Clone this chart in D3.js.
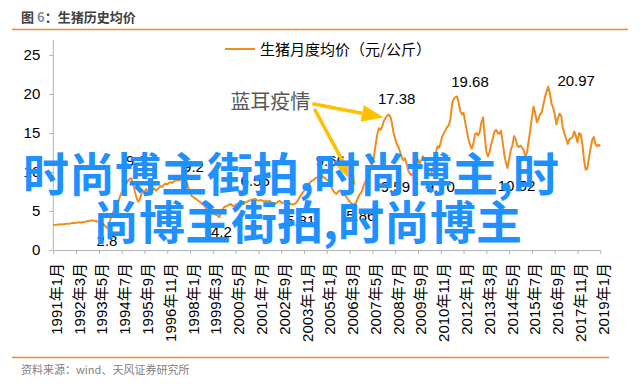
<!DOCTYPE html>
<html><head><meta charset="utf-8">
<script src="https://cdn.jsdelivr.net/npm/d3@7/dist/d3.min.js"></script>
<style>body{margin:0;background:#fff;}svg{display:block;}</style>
</head><body>
<svg id="chart" width="640" height="386"></svg>
<script>
// ---------- data ----------
const titlePrefix = "图 ";
const titleNum = "6";
const titleRest = "：生猪历史均价";
const seriesName = "生猪月度均价（元/公斤）";
const sourceText = "资料来源：wind、天风证券研究所";
const eventText = "蓝耳疫情";
const watermarkLines = ["时尚博主街拍,时尚博主,时", "尚博主街拍,时尚博主"];

const startYear = 1991, endYear = 2019, endMonth = 1;
const categories = [];
for (let y = startYear; y <= endYear; y++) {
  for (let m = 1; m <= 12; m++) {
    if (y === endYear && m > endMonth) break;
    categories.push(y + "年" + m + "月");
  }
}
const prices = [
  3.20,3.22,3.25,3.27,3.30,3.28,3.31,3.34,3.36,3.35,3.38,3.42,        // 1991
  3.45,3.47,3.50,3.52,3.55,3.53,3.57,3.60,3.64,3.68,3.72,3.78,        // 1992
  3.80,3.76,3.72,3.65,3.58,3.50,3.40,3.25,3.05,2.80,3.20,3.90,        // 1993
  4.50,5.00,5.40,5.80,6.30,6.90,7.40,7.90,8.30,8.60,8.90,9.10,        // 1994
  9.20,8.60,7.60,6.80,6.20,6.40,7.10,7.60,7.40,7.80,7.60,7.80,        // 1995
  7.90,7.70,7.90,7.60,7.80,8.00,8.20,8.10,8.40,8.50,8.40,8.60,        // 1996
  8.70,8.60,8.80,8.90,9.00,8.90,9.00,9.10,9.20,9.10,8.60,8.00,        // 1997
  7.40,6.90,6.80,6.60,6.50,6.30,6.20,6.00,5.80,5.60,5.30,5.10,        // 1998
  5.00,4.80,4.70,4.60,4.50,4.40,4.20,4.70,5.20,5.50,5.60,5.70,        // 1999
  5.80,5.90,5.70,5.60,5.80,5.90,6.00,6.10,6.00,5.90,6.10,6.20,        // 2000
  6.30,6.40,6.45,6.50,6.56,6.40,6.30,6.40,6.35,6.30,6.20,6.30,        // 2001
  6.20,6.30,6.10,6.00,5.90,6.00,6.20,6.30,6.10,6.00,6.20,6.30,        // 2002
  6.10,6.00,5.90,5.81,5.90,6.00,6.30,6.60,7.00,7.30,7.60,7.90,        // 2003
  8.20,8.50,8.70,8.90,9.00,9.20,9.30,9.50,9.66,9.50,9.30,9.20,        // 2004
  9.00,8.80,8.50,8.00,7.60,7.30,7.20,7.50,7.60,7.30,7.00,7.10,        // 2005
  6.80,6.50,6.20,6.00,5.86,5.90,6.10,6.60,7.10,7.30,7.80,8.50,        // 2006
  8.90,9.30,9.80,10.40,11.20,12.00,13.50,14.80,15.60,15.40,15.80,16.50, // 2007
  16.90,17.20,17.38,17.10,16.30,15.00,14.30,13.60,13.20,12.60,11.90,11.50, // 2008
  11.80,11.10,10.20,9.80,9.59,9.90,10.80,11.80,11.60,11.10,11.50,12.00, // 2009
  11.70,10.90,10.20,9.70,9.80,10.30,11.40,12.40,13.30,13.10,13.80,14.60, // 2010
  15.00,15.40,15.80,16.00,16.90,18.80,19.40,19.60,19.68,18.90,17.80,17.40, // 2011
  17.60,16.40,15.30,14.20,13.50,13.00,13.60,14.80,15.00,14.70,15.20,16.40, // 2012
  17.00,14.60,12.60,12.00,12.60,13.60,14.30,15.20,15.40,15.00,14.90,15.30, // 2013
  13.90,12.30,11.20,10.52,11.60,12.80,13.40,14.60,14.20,13.40,13.20,13.40, // 2014
  13.10,12.80,11.90,12.50,14.00,15.40,17.00,18.40,17.60,16.40,16.80,17.40, // 2015
  17.60,18.60,19.60,20.30,20.97,20.10,18.80,18.30,17.40,16.10,16.90,17.50, // 2016
  17.20,15.60,14.90,14.30,13.60,14.20,14.30,14.50,15.20,14.60,13.80,15.00, // 2017
  14.80,13.60,11.50,10.30,10.40,11.80,13.00,14.10,14.50,13.60,13.30,13.50, // 2018
  13.30                                                                 // 2019
];
const xTickLabels = ["1991年1月","1992年3月","1993年5月","1994年7月","1995年9月","1996年11月",
  "1998年1月","1999年3月","2000年5月","2001年7月","2002年9月","2003年11月","2005年1月",
  "2006年3月","2007年5月","2008年7月","2009年9月","2010年11月","2012年1月","2013年3月",
  "2014年5月","2015年7月","2016年9月","2017年11月","2019年1月"];
const yTicks = [0,5,10,15,20,25];
// value labels: category + text
const valueLabelCats = ["1993年10月","1995年1月","1997年9月","1999年7月","2001年5月","2003年4月",
  "2004年9月","2006年5月","2008年3月","2009年5月","2010年4月","2011年9月","2014年4月","2016年5月"];
const valueLabelTexts = ["2.8","9.2","9.2","4.2","6.56","5.81","9.66","5.86","17.38","9.59","9.70","19.68","10.52","20.97"];
// style offsets for labels (px)
const valueLabelOffsets = [[0,18],[5,-12],[10,-6],[2,20],[0,-13],[8,21],[10,-9],[8,17],[8,-10],[-16,17],[11,18],[13,-9],[9,23],[28,0]];

// ---------- chart ----------
const svg = d3.select("#chart");
const FONT = "'Liberation Sans', Arial, 'Noto Sans CJK SC', sans-serif";
const CJK = "'Noto Sans CJK SC', 'Liberation Sans', sans-serif";
const ORANGE = "#F08C1E";
const RULE = "#ED8A32";
const AXIS = "#B3B3B3";

const x = d3.scalePoint().domain(categories).range([53.3, 600.3]);
const y = d3.scaleLinear().domain([0, 25]).range([250, 55]);

// title + rules
const t = svg.append("text").attr("x", 21).attr("y", 22)
  .style("font-family", CJK).style("font-size", "13px").style("font-weight", "bold").attr("fill", "#404040");
t.append("tspan").text(titlePrefix);
t.append("tspan").attr("fill", "#7B8FA8").text(titleNum);
t.append("tspan").text(titleRest);
svg.append("line").attr("x1", 12).attr("x2", 628).attr("y1", 29.5).attr("y2", 29.5)
  .attr("stroke", RULE).attr("stroke-width", 1.5);
svg.append("line").attr("x1", 12).attr("x2", 609).attr("y1", 357.5).attr("y2", 357.5)
  .attr("stroke", RULE).attr("stroke-width", 1.5);
svg.append("text").attr("x", 21).attr("y", 374).text(sourceText)
  .style("font-family", CJK).style("font-size", "11px").attr("fill", "#808080");

// y axis
const gy = svg.append("g").attr("transform", "translate(53.3,0)")
  .call(d3.axisLeft(y).tickValues(yTicks).tickSize(4).tickPadding(9).tickSizeOuter(0));
gy.select(".domain").remove();
gy.append("line").attr("x1", 0).attr("x2", 0).attr("y1", 40).attr("y2", 250).attr("stroke", AXIS);
gy.selectAll(".tick line").attr("stroke", AXIS);
gy.selectAll("text").style("font-family", FONT).style("font-size", "15px").attr("fill", "#000");

// x axis
const gx = svg.append("g").attr("transform", "translate(0,250)")
  .call(d3.axisBottom(x).tickValues(xTickLabels).tickSize(4).tickSizeOuter(0));
gx.select(".domain").attr("stroke", AXIS);
gx.selectAll(".tick line").attr("stroke", AXIS);
gx.selectAll("text")
  .style("font-family", FONT).style("font-size", "15px").attr("fill", "#000")
  .attr("transform", "rotate(-90)").attr("x", -13).attr("y", 0).attr("dy", "8px")
  .style("text-anchor", "end");

// line
const line = d3.line().x((d, i) => x(categories[i])).y(d => y(d));
svg.append("path").datum(prices).attr("d", line)
  .attr("fill", "none").attr("stroke", ORANGE).attr("stroke-width", 2).attr("stroke-linejoin", "round");

// legend
svg.append("line").attr("x1", 225).attr("x2", 255).attr("y1", 49).attr("y2", 49)
  .attr("stroke", ORANGE).attr("stroke-width", 2);
svg.append("text").attr("x", 260).attr("y", 55).text(seriesName)
  .style("font-family", CJK).style("font-size", "15px").attr("fill", "#000");

// value labels
valueLabelCats.forEach((c, i) => {
  const idx = categories.indexOf(c);
  svg.append("text")
    .attr("x", x(c) + valueLabelOffsets[i][0])
    .attr("y", y(prices[idx]) + valueLabelOffsets[i][1])
    .attr("text-anchor", "middle").text(valueLabelTexts[i])
    .style("font-family", FONT).style("font-size", "15px").attr("fill", "#000");
});

// event annotation + arrows
const ex = x("2000年3月"), ey = y(18.1);
svg.append("text").attr("x", ex - 2).attr("y", ey).text(eventText)
  .style("font-family", CJK).style("font-size", "20px").attr("fill", "#595959");
const GOLD = "#FFC000";
function arrow(x1, y1, x2, y2, headLen, headW) {
  const dx = x2 - x1, dy = y2 - y1, L = Math.hypot(dx, dy);
  const ux = dx / L, uy = dy / L, px = -uy, py = ux;
  const bx = x2 - ux * headLen, by = y2 - uy * headLen;
  svg.append("line").attr("x1", x1).attr("y1", y1).attr("x2", bx).attr("y2", by)
    .attr("stroke", GOLD).attr("stroke-width", 3.5);
  svg.append("path").attr("d",
    `M${x2},${y2}L${bx + px * headW / 2},${by + py * headW / 2}L${bx - px * headW / 2},${by - py * headW / 2}Z`)
    .attr("fill", GOLD);
}
arrow(ex + 80, ey - 5, x("2007年12月"), y(17.0), 22, 17);
arrow(ex + 82, ey, x("2006年7月"), y(8.2), 26, 15);

// watermark overlay
svg.append("text").attr("x", 23).attr("y", 191).text(watermarkLines[0])
  .style("font-family", CJK).style("font-size", "46px").style("font-weight", "bold").attr("fill", "#1E90FF");
svg.append("text").attr("x", 93).attr("y", 239).text(watermarkLines[1])
  .style("font-family", CJK).style("font-size", "46px").style("font-weight", "bold").attr("fill", "#1E90FF");
</script>
</body></html>
